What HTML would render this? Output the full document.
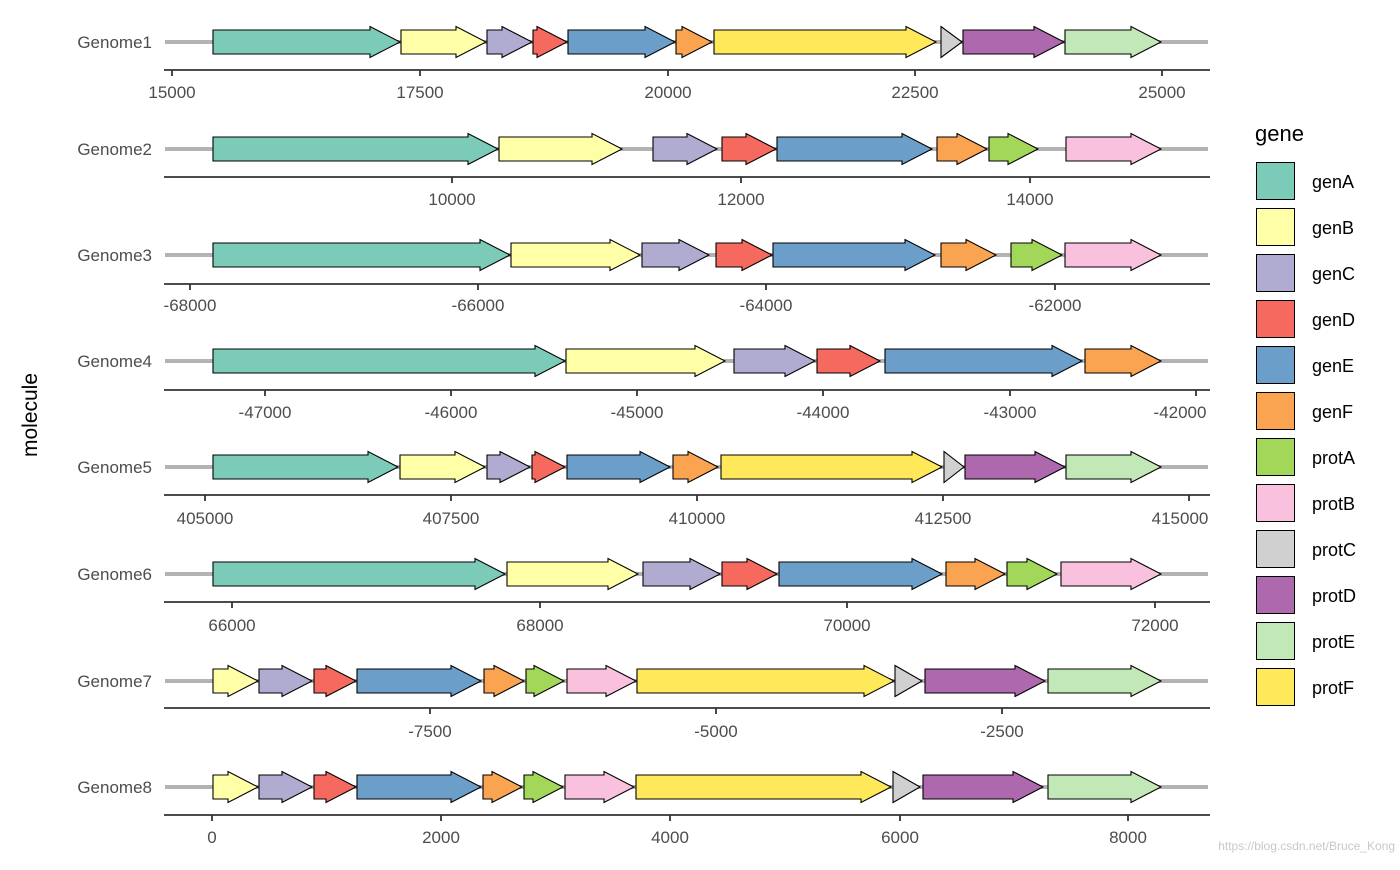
<!DOCTYPE html>
<html><head><meta charset="utf-8"><style>
body{margin:0;background:#fff;}
svg text{font-family:"Liberation Sans",Arial,sans-serif;}
</style></head><body>
<svg id="s" width="1400" height="865" xmlns="http://www.w3.org/2000/svg">
<g id="tracks"></g>
<g font-size="17" fill="#4d4d4d" text-anchor="end">
<text x="152" y="48">Genome1</text>
<text x="152" y="155">Genome2</text>
<text x="152" y="261">Genome3</text>
<text x="152" y="367">Genome4</text>
<text x="152" y="473">Genome5</text>
<text x="152" y="580">Genome6</text>
<text x="152" y="687">Genome7</text>
<text x="152" y="793">Genome8</text>
</g>
<g font-size="17" fill="#4d4d4d" text-anchor="middle">
<text x="172" y="98">15000</text><text x="420" y="98">17500</text><text x="668" y="98">20000</text><text x="915" y="98">22500</text><text x="1162" y="98">25000</text>
<text x="452" y="205">10000</text><text x="741" y="205">12000</text><text x="1030" y="205">14000</text>
<text x="190" y="311">-68000</text><text x="478" y="311">-66000</text><text x="766" y="311">-64000</text><text x="1055" y="311">-62000</text>
<text x="265" y="418">-47000</text><text x="451" y="418">-46000</text><text x="637" y="418">-45000</text><text x="823" y="418">-44000</text><text x="1010" y="418">-43000</text><text x="1180" y="418">-42000</text>
<text x="205" y="524">405000</text><text x="451" y="524">407500</text><text x="697" y="524">410000</text><text x="943" y="524">412500</text><text x="1180" y="524">415000</text>
<text x="232" y="631">66000</text><text x="540" y="631">68000</text><text x="847" y="631">70000</text><text x="1155" y="631">72000</text>
<text x="430" y="737">-7500</text><text x="716" y="737">-5000</text><text x="1002" y="737">-2500</text>
<text x="212" y="843">0</text><text x="441" y="843">2000</text><text x="670" y="843">4000</text><text x="900" y="843">6000</text><text x="1128" y="843">8000</text>
</g>
<text x="0" y="0" font-size="21" fill="#000" text-anchor="middle" transform="translate(37,415) rotate(-90)">molecule</text>
<text x="1255" y="141" font-size="22" fill="#000">gene</text>
<g id="legend" font-size="18" fill="#000">
<text x="1312" y="188">genA</text><text x="1312" y="234">genB</text><text x="1312" y="280">genC</text><text x="1312" y="326">genD</text>
<text x="1312" y="372">genE</text><text x="1312" y="418">genF</text><text x="1312" y="464">protA</text><text x="1312" y="510">protB</text>
<text x="1312" y="556">protC</text><text x="1312" y="602">protD</text><text x="1312" y="648">protE</text><text x="1312" y="694">protF</text>
</g>
<text x="1395" y="850" font-size="12" fill="#c8c8c8" text-anchor="end">https://blog.csdn.net/Bruce_Kong</text>
</svg>
<script>
var C={A:"#7ccbb9",B:"#ffffa8",C:"#b0abd0",D:"#f6695f",E:"#6b9ec8",F:"#faa451",pA:"#a3d75a",pB:"#f9c1de",pC:"#d0d0d0",pD:"#ae68ae",pE:"#c3e8b8",pF:"#ffe95a"};
var rows=[
[42,70,[172,420,668,915,1162],[["A",213,400],["B",401,486],["C",487,532],["D",533,567],["E",568,675],["F",676,712],["pF",714,936],["pC",941,962],["pD",963,1064],["pE",1065,1161]]],
[149,177,[452,741,1030],[["A",213,498],["B",499,622],["C",653,717],["D",722,776],["E",777,932],["F",937,987],["pA",989,1038],["pB",1066,1161]]],
[255,284,[190,478,766,1055],[["A",213,510],["B",511,640],["C",642,709],["D",716,772],["E",773,935],["F",941,996],["pA",1011,1062],["pB",1065,1161]]],
[361,390,[265,451,637,823,1010,1196],[["A",213,565],["B",566,725],["C",734,815],["D",817,880],["E",885,1082],["F",1085,1161]]],
[467,495,[205,451,697,943,1189],[["A",213,398],["B",400,485],["C",487,530],["D",532,565],["E",567,670],["F",673,718],["pF",721,942],["pC",944,964],["pD",965,1065],["pE",1066,1161]]],
[574,602,[232,540,847,1155],[["A",213,505],["B",507,638],["C",643,720],["D",722,777],["E",779,942],["F",946,1005],["pA",1007,1057],["pB",1061,1161]]],
[681,708,[430,716,1002],[["B",213,258],["C",259,312],["D",314,356],["E",357,481],["F",484,524],["pA",526,564],["pB",567,636],["pF",637,894],["pC",895,922],["pD",925,1045],["pE",1048,1161]]],
[787,815,[212,441,670,900,1128],[["B",213,258],["C",259,312],["D",314,356],["E",357,481],["F",483,522],["pA",524,563],["pB",565,634],["pF",636,891],["pC",893,920],["pD",923,1043],["pE",1048,1161]]]
];
var g=document.getElementById("tracks"),h="";
rows.forEach(function(r){
 var y=r[0],a=r[1];
 h+='<line x1="165" x2="1208" y1="'+y+'" y2="'+y+'" stroke="#b3b3b3" stroke-width="4"/>';
 h+='<line x1="164" x2="1210" y1="'+a+'" y2="'+a+'" stroke="#333" stroke-width="1.8"/>';
 r[2].forEach(function(t){h+='<line x1="'+t+'" x2="'+t+'" y1="'+a+'" y2="'+(a+6)+'" stroke="#333" stroke-width="1.8"/>';});
 r[3].forEach(function(s){
  var x1=s[1],x2=s[2],hl=Math.min(30,x2-x1),hx=x2-hl;
  var p=[[x1,y-12],[hx,y-12],[hx,y-15.5],[x2,y],[hx,y+15.5],[hx,y+12],[x1,y+12]];
  h+='<polygon points="'+p.map(function(q){return q.join(",")}).join(" ")+'" fill="'+C[s[0]]+'" stroke="#000" stroke-width="1.1"/>';
 });
});
var keys=["A","B","C","D","E","F","pA","pB","pC","pD","pE","pF"];
keys.forEach(function(k,i){h+='<rect x="1256.5" y="'+(162.5+i*46)+'" width="38" height="37" fill="'+C[k]+'" stroke="#000" stroke-width="1"/>';});
g.innerHTML=h;
</script>
</body></html>
